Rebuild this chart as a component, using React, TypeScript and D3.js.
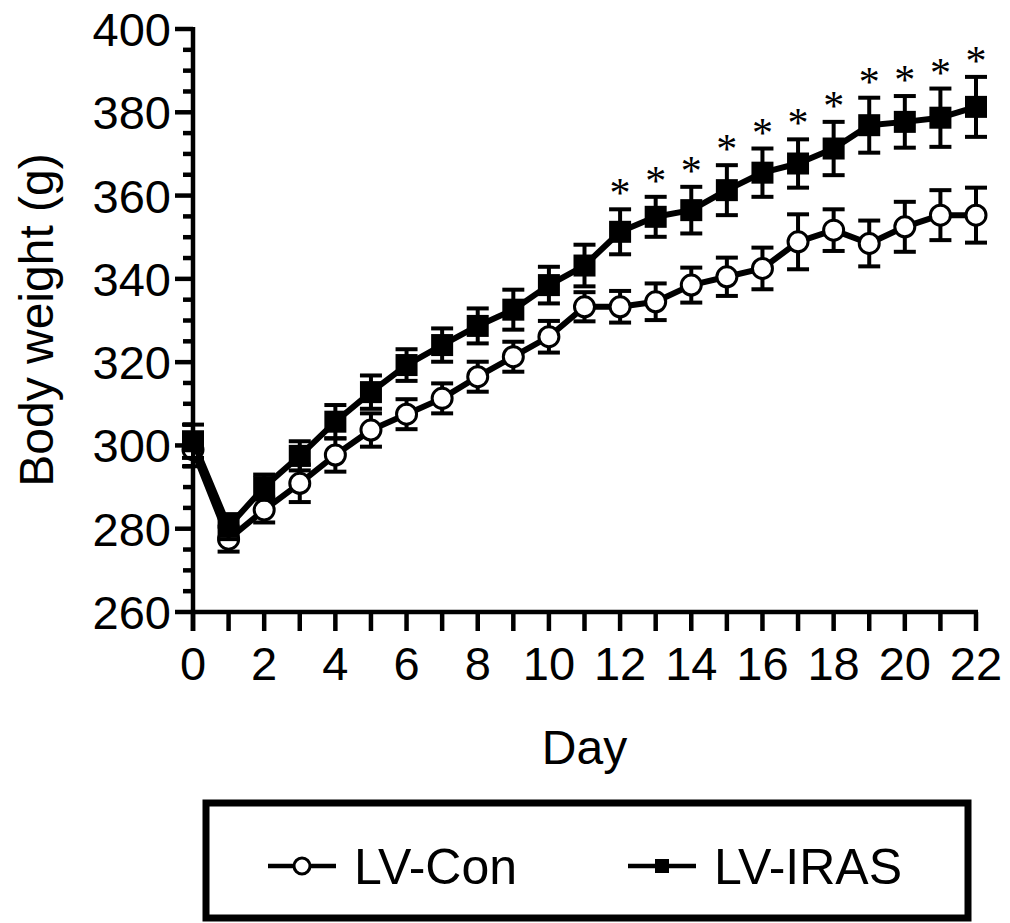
import React, { useEffect, useRef } from "react";
import * as d3 from "d3";

// Days 0..22
const days = d3.range(0, 23);

// LV-Con group: mean body weight and SEM (g)
const conMean = [299, 277.5, 284.5, 290.9, 297.7, 303.7, 307.5, 311.3, 316.5, 321.3, 326.1, 333.3, 333.3, 334.5, 338.5, 340.5, 342.5, 348.9, 351.7, 348.5, 352.5, 355.3, 355.3];
const conSem = [4, 3, 3, 4.5, 4, 4, 3.6, 3.6, 3.6, 3.6, 3.8, 3.5, 3.8, 4.4, 4.2, 4.6, 5, 6.6, 5, 5.5, 6, 6, 6.6];

// LV-IRAS group: mean body weight and SEM (g)
const irasMean = [301, 280.5, 290, 297.5, 305.7, 312.8, 319.3, 324.1, 328.7, 332.6, 338.5, 343.2, 351.3, 354.9, 356.5, 361.3, 365.5, 367.7, 371.3, 376.9, 377.7, 378.7, 381.3];
const irasSem = [4, 3, 3, 3.5, 4, 4, 3.8, 4, 4.2, 4.8, 4.4, 5, 5.4, 4.8, 5.6, 6, 5.8, 5.8, 6.4, 6.6, 6.2, 7, 7.2];

// Days marked significant (*)
const sigDays = [12, 13, 14, 15, 16, 17, 18, 19, 20, 21, 22];

// Axis ticks
const yMajor = [260, 280, 300, 320, 340, 360, 380, 400];
const xLabels = [0, 2, 4, 6, 8, 10, 12, 14, 16, 18, 20, 22];

const legendNames = ["LV-Con", "LV-IRAS"];

const FONT = "'Liberation Sans', Arial, sans-serif";

export default function App() {
  const ref = useRef<SVGSVGElement>(null);

  useEffect(() => {
    const svg = d3.select(ref.current);
    svg.selectAll("*").remove();

    // Scales
    const x = d3.scaleLinear().domain([0, 22]).range([193, 976]);
    const y = d3.scaleLinear().domain([260, 400]).range([612, 29]);

    const axis = svg.append("g").attr("stroke", "#000").attr("stroke-width", 4.5);

    // Y axis line + ticks (minor every 5 g)
    axis.append("line").attr("x1", x(0)).attr("x2", x(0)).attr("y1", y(400) - 2).attr("y2", y(260) + 19);
    axis
      .selectAll(".ymin")
      .data(d3.range(260, 401, 5))
      .enter()
      .append("line")
      .attr("x1", (d) => (d % 20 === 0 ? x(0) - 18 : x(0) - 10))
      .attr("x2", x(0))
      .attr("y1", (d) => y(d))
      .attr("y2", (d) => y(d));

    // X axis line + ticks (every day)
    axis.append("line").attr("x1", x(0)).attr("x2", x(22) + 2).attr("y1", y(260)).attr("y2", y(260));
    axis
      .selectAll(".xt")
      .data(days)
      .enter()
      .append("line")
      .attr("x1", (d) => x(d))
      .attr("x2", (d) => x(d))
      .attr("y1", y(260))
      .attr("y2", y(260) + 19);

    // Tick labels
    svg
      .selectAll(".ylab")
      .data(yMajor)
      .enter()
      .append("text")
      .attr("x", 171)
      .attr("y", (d) => y(d) + 17)
      .attr("text-anchor", "end")
      .attr("font-family", FONT)
      .attr("font-size", 47)
      .text((d) => d);

    svg
      .selectAll(".xlab")
      .data(xLabels)
      .enter()
      .append("text")
      .attr("x", (d) => x(d))
      .attr("y", 680)
      .attr("text-anchor", "middle")
      .attr("font-family", FONT)
      .attr("font-size", 47)
      .text((d) => d);

    // Axis titles
    svg
      .append("text")
      .attr("x", (x(0) + x(22)) / 2)
      .attr("y", 764)
      .attr("text-anchor", "middle")
      .attr("font-family", FONT)
      .attr("font-size", 48)
      .text("Day");

    svg
      .append("text")
      .attr("transform", "translate(53,320) rotate(-90)")
      .attr("text-anchor", "middle")
      .attr("font-family", FONT)
      .attr("font-size", 48)
      .text("Body weight (g)");

    const line = d3
      .line<number>()
      .x((d, i) => x(days[i]))
      .y((d) => y(d));

    const drawSeries = (mean: number[], sem: number[], square: boolean) => {
      const g = svg.append("g");
      g.append("path")
        .attr("d", line(mean))
        .attr("fill", "none")
        .attr("stroke", "#000")
        .attr("stroke-width", 6)
        .attr("stroke-linejoin", "round");

      // Error bars (mean ± SEM)
      const err = g.append("g").attr("stroke", "#000").attr("stroke-width", 4);
      days.forEach((d, i) => {
        const top = y(mean[i] + sem[i]);
        const bot = y(mean[i] - sem[i]);
        err.append("line").attr("x1", x(d)).attr("x2", x(d)).attr("y1", top).attr("y2", bot);
        err.append("line").attr("x1", x(d) - 11).attr("x2", x(d) + 11).attr("y1", top).attr("y2", top);
        err.append("line").attr("x1", x(d) - 11).attr("x2", x(d) + 11).attr("y1", bot).attr("y2", bot);
      });

      if (square) {
        g.selectAll(".sq")
          .data(mean)
          .enter()
          .append("rect")
          .attr("x", (d, i) => x(days[i]) - 11)
          .attr("y", (d) => y(d) - 11)
          .attr("width", 22)
          .attr("height", 22)
          .attr("fill", "#000");
      } else {
        g.selectAll(".ci")
          .data(mean)
          .enter()
          .append("circle")
          .attr("cx", (d, i) => x(days[i]))
          .attr("cy", (d) => y(d))
          .attr("r", 10)
          .attr("fill", "#fff")
          .attr("stroke", "#000")
          .attr("stroke-width", 3);
      }
    };

    drawSeries(conMean, conSem, false);
    drawSeries(irasMean, irasSem, true);

    // Significance stars above LV-IRAS error bars
    svg
      .selectAll(".star")
      .data(sigDays)
      .enter()
      .append("text")
      .attr("x", (d) => x(d))
      .attr("y", (d) => y(irasMean[d] + irasSem[d]) - 2)
      .attr("text-anchor", "middle")
      .attr("font-family", "'Liberation Serif', 'Times New Roman', serif")
      .attr("font-size", 42)
      .text("*");

    // Legend
    const lg = svg.append("g");
    lg.append("rect")
      .attr("x", 206)
      .attr("y", 803)
      .attr("width", 762)
      .attr("height", 115)
      .attr("fill", "none")
      .attr("stroke", "#000")
      .attr("stroke-width", 7);

    const items = lg
      .selectAll(".item")
      .data(legendNames)
      .enter()
      .append("g")
      .attr("transform", (d, i) => `translate(${i === 0 ? 268 : 628},866)`);

    items
      .append("line")
      .attr("x1", 0)
      .attr("x2", 68)
      .attr("stroke", "#000")
      .attr("stroke-width", 4.5);

    items.each(function (d, i) {
      const it = d3.select(this);
      if (i === 0) {
        it.append("circle").attr("cx", 34).attr("cy", 0).attr("r", 8).attr("fill", "#fff").attr("stroke", "#000").attr("stroke-width", 3);
      } else {
        it.append("rect").attr("x", 27).attr("y", -7).attr("width", 14).attr("height", 14).attr("fill", "#000");
      }
    });

    items
      .append("text")
      .attr("x", 86)
      .attr("y", 18)
      .attr("font-family", FONT)
      .attr("font-size", 50)
      .text((d) => d);
  }, []);

  return (
    <svg
      ref={ref}
      width={1010}
      height={923}
      style={{ position: "absolute", left: 0, top: 0, background: "#fff" }}
    />
  );
}
